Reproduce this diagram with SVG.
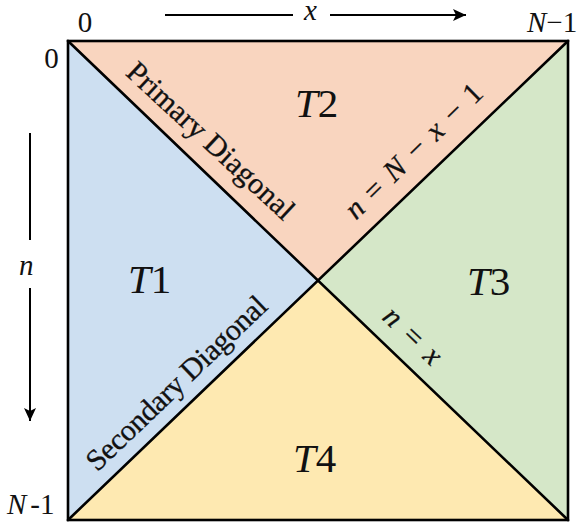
<svg xmlns="http://www.w3.org/2000/svg" width="582" height="523" viewBox="0 0 582 523">
<style>
text{font-family:"Liberation Serif","DejaVu Serif",serif;fill:#111}
.lbl{font-size:29px}
.big{font-size:41px}
.diag{font-size:30px;stroke:#111;stroke-width:0.3}
.math{font-size:30px;stroke:#111;stroke-width:0.3}
.it{font-style:italic}
.tri{stroke:none}
.edge{stroke:#000;stroke-width:2.6;fill:none;stroke-linecap:round}
.arr{stroke:#000;stroke-width:2;fill:none}
</style>
<defs>
<marker id="ah" markerUnits="userSpaceOnUse" markerWidth="14" markerHeight="12" refX="13" refY="6" orient="auto">
<path d="M0,0 L13,6 L0,12 L3,6 z" fill="#000"/>
</marker>
</defs>
<g id="T1"><polygon class="tri" points="68,41 318,280.5 68,520" fill="#cddff1"/><text class="big" x="128" y="293"><tspan class="it">T</tspan>1</text></g>
<g id="T2"><polygon class="tri" points="68,41 568,41 318,280.5" fill="#f9d5bf"/><text class="big" x="295" y="117"><tspan class="it">T</tspan>2</text></g>
<g id="T3"><polygon class="tri" points="568,41 568,520 318,280.5" fill="#d5e7c8"/><text class="big" x="467" y="295"><tspan class="it">T</tspan>3</text></g>
<g id="T4"><polygon class="tri" points="68,520 318,280.5 568,520" fill="#fee9b1"/><text class="big" x="293" y="472"><tspan class="it">T</tspan>4</text></g>
<g id="connectors">
<rect class="edge" x="68" y="41" width="500" height="479" stroke-width="3"/>
<line class="edge" x1="68" y1="41" x2="568" y2="520"/>
<line class="edge" x1="568" y1="41" x2="68" y2="520"/>
<line class="arr" x1="165" y1="15" x2="293" y2="15"/>
<line class="arr" x1="330" y1="15" x2="466" y2="15" marker-end="url(#ah)"/>
<line class="arr" x1="30" y1="133" x2="30" y2="240"/>
<line class="arr" x1="30" y1="288" x2="30" y2="421" marker-end="url(#ah)"/>
</g>
<g id="axis-labels">
<text class="lbl" x="85" y="32" text-anchor="middle">0</text>
<text class="lbl" x="51.5" y="68" text-anchor="middle">0</text>
<text class="lbl" x="527" y="32"><tspan class="it">N</tspan>−1</text>
<text class="lbl" x="7" y="514"><tspan class="it">N</tspan><tspan dx="4">-1</tspan></text>
<text class="lbl it" x="304" y="20">x</text>
<text class="lbl it" x="19" y="275">n</text>
</g>
<g id="diagonal-labels">
<text class="diag" transform="translate(68,41) rotate(42.8)" x="64" y="-14" textLength="217" lengthAdjust="spacing">Primary Diagonal</text>
<text class="diag" transform="translate(68,520) rotate(-43.77)" x="54" y="-14" textLength="238" lengthAdjust="spacing">Secondary Diagonal</text>
<text class="math" transform="translate(68,520) rotate(-44.3)" x="415" y="-13" textLength="180" lengthAdjust="spacing"><tspan class="it">n</tspan> = <tspan class="it">N</tspan> − <tspan class="it">x</tspan> − 1</text>
<text class="math" transform="translate(68,41) rotate(43.77)" x="418" y="-16" textLength="70" lengthAdjust="spacing"><tspan class="it">n</tspan> = <tspan class="it">x</tspan></text>
</g>
</svg>
